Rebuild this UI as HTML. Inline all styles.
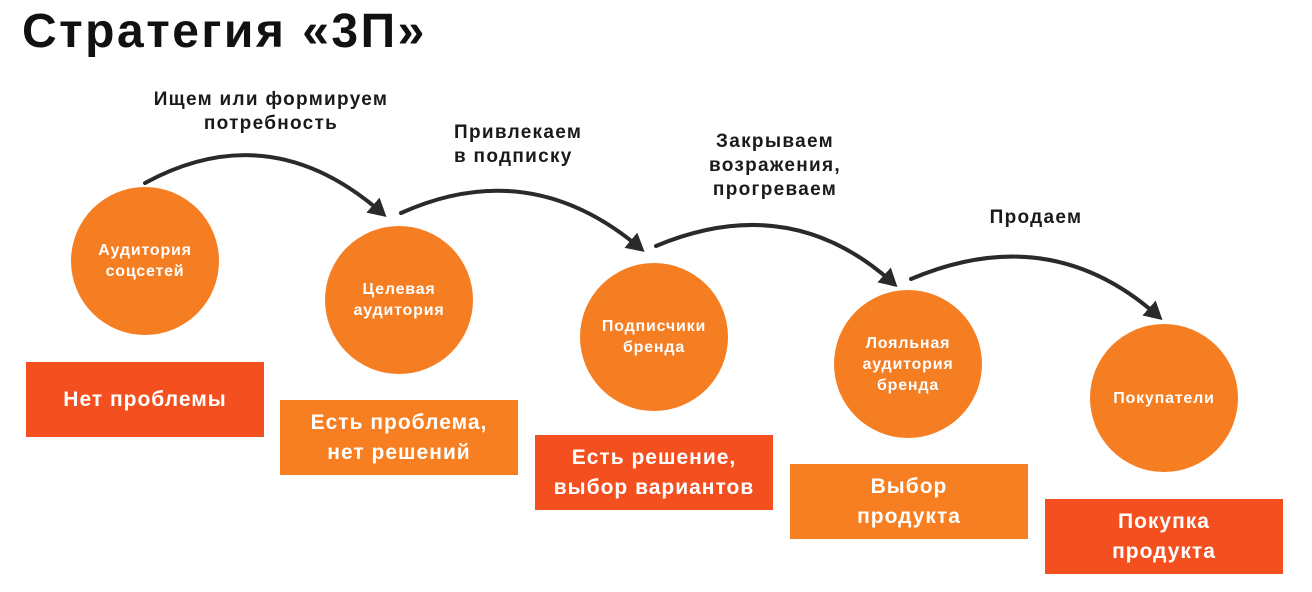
<!DOCTYPE html>
<html><head><meta charset="utf-8"><style>
body{margin:0;width:1312px;height:592px;background:#fff;position:relative;overflow:hidden;font-family:"Liberation Sans","DejaVu Sans",sans-serif;font-weight:bold}
.t{position:absolute;color:#111;white-space:nowrap}
.c{position:absolute;width:148px;height:148px;border-radius:50%;background:#f57d22;color:#fff;display:flex;align-items:center;justify-content:center;text-align:center;font-size:16px;line-height:21px;letter-spacing:0.8px}
.b{position:absolute;width:238px;height:75px;color:#fff;display:flex;align-items:center;justify-content:center;text-align:center;font-size:21px;line-height:30px;letter-spacing:1px}
.r{background:#f44f1f}.o{background:#f77f22}
.l{position:absolute;font-size:19px;line-height:24px;color:#1a1a1a;text-align:center;white-space:nowrap;letter-spacing:1.3px}
</style></head><body>
<div class="t" style="left:22px;top:4px;font-size:48px;letter-spacing:2.5px">Стратегия «3П»</div>
<svg width="1312" height="592" style="position:absolute;left:0;top:0">
<defs><marker id="a" markerWidth="5" markerHeight="5" refX="3" refY="2.5" orient="auto" markerUnits="strokeWidth"><path d="M0,0 L4.5,2.5 L0,5 Z" fill="#2a2a2a"/></marker></defs>
<g fill="none" stroke="#2a2a2a" stroke-width="4" stroke-linecap="round">
<path d="M145,183 Q270,115 382,213" marker-end="url(#a)"/>
<path d="M401,213 Q530,155 640,248" marker-end="url(#a)"/>
<path d="M656,246 Q790,190 893,283" marker-end="url(#a)"/>
<path d="M911,279 Q1050,220 1158,316" marker-end="url(#a)"/>
</g></svg>
<div class="l" style="left:131px;top:88px;width:280px">Ищем или формируем<br>потребность</div>
<div class="l" style="left:454px;top:121px;text-align:left">Привлекаем<br>в подписку</div>
<div class="l" style="left:680px;top:130px;width:190px">Закрываем<br>возражения,<br>прогреваем</div>
<div class="l" style="left:976px;top:206px;width:120px">Продаем</div>
<div class="c" style="left:71px;top:187px">Аудитория<br>соцсетей</div>
<div class="c" style="left:325px;top:226px">Целевая<br>аудитория</div>
<div class="c" style="left:580px;top:263px">Подписчики<br>бренда</div>
<div class="c" style="left:834px;top:290px">Лояльная<br>аудитория<br>бренда</div>
<div class="c" style="left:1090px;top:324px">Покупатели</div>
<div class="b r" style="left:26px;top:362px">Нет проблемы</div>
<div class="b o" style="left:280px;top:400px">Есть проблема,<br>нет решений</div>
<div class="b r" style="left:535px;top:435px">Есть решение,<br>выбор вариантов</div>
<div class="b o" style="left:790px;top:464px">Выбор<br>продукта</div>
<div class="b r" style="left:1045px;top:499px">Покупка<br>продукта</div>
</body></html>
